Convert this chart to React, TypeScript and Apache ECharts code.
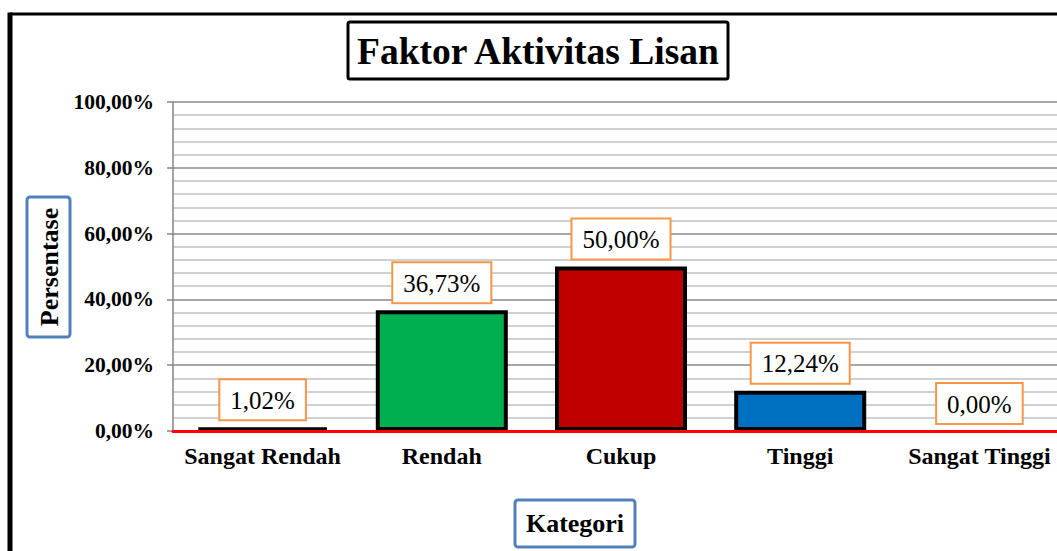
import React, { useEffect, useRef } from 'react';
import * as echarts from 'echarts';

const categories = ['Sangat Rendah', 'Rendah', 'Cukup', 'Tinggi', 'Sangat Tinggi'];
const values = [1.02, 36.73, 50.0, 12.24, 0.0];
const barColors = ['#FFC000', '#00B050', '#C00000', '#0070C0', '#7030A0'];
const chartTitle = 'Faktor Aktivitas Lisan';
const yTitle = 'Persentase';
const xTitle = 'Kategori';

const fmt = (v: number) => Number(v).toFixed(2).replace('.', ',') + '%';
const FONT = '"Liberation Serif", "Times New Roman", serif';

export default function App() {
  const ref = useRef<HTMLDivElement>(null);
  useEffect(() => {
    const chart = echarts.init(ref.current!, null, { renderer: 'svg' });
    chart.setOption({
      animation: false,
      backgroundColor: '#ffffff',
      grid: { left: 173, top: 102, width: 896, height: 329, containLabel: false },
      xAxis: {
        type: 'category',
        data: categories,
        z: 10,
        axisLine: { show: true, lineStyle: { color: '#FF0000', width: 3 } },
        axisTick: { show: false },
        axisLabel: {
          interval: 0,
          fontFamily: FONT,
          fontWeight: 'bold',
          fontSize: 24,
          color: '#000',
          margin: 13,
        },
      },
      yAxis: {
        type: 'value',
        min: 0,
        max: 100,
        interval: 20,
        axisLine: { show: true, lineStyle: { color: '#868686', width: 1.5 } },
        axisTick: { show: true, length: 6, lineStyle: { color: '#868686', width: 1.5 } },
        minorTick: { show: false, splitNumber: 5 },
        splitLine: { show: true, lineStyle: { color: '#8a8a8a', width: 1.5 } },
        minorSplitLine: { show: true, lineStyle: { color: '#c0c0c0', width: 1.5 } },
        axisLabel: {
          formatter: (v: number) => fmt(v),
          fontFamily: FONT,
          fontWeight: 'bold',
          fontSize: 21.5,
          color: '#000',
          margin: 19,
        },
      },
      series: [
        {
          type: 'bar',
          data: values.map((v, i) => ({
            value: v,
            itemStyle: { color: barColors[i], borderWidth: v === 0 ? 0 : 4 },
          })),
          barWidth: 132,
          itemStyle: { borderColor: '#000', borderWidth: 4 },
          label: {
            show: true,
            position: 'top',
            distance: 8,
            formatter: (p: any) => fmt(p.value),
            fontFamily: FONT,
            fontSize: 25,
            lineHeight: 26,
            color: '#000',
            backgroundColor: '#fff',
            borderColor: '#F79646',
            borderWidth: 2,
            padding: [7, 10, 6, 10],
          },
        },
      ],
      graphic: [
        { type: 'line', shape: { x1: 10, y1: 14, x2: 1100, y2: 14 }, style: { stroke: '#000', lineWidth: 3 }, z: 100 },
        { type: 'line', shape: { x1: 10, y1: 12.5, x2: 10, y2: 600 }, style: { stroke: '#000', lineWidth: 5 }, z: 100 },
        {
          type: 'rect',
          shape: { x: 348, y: 22, width: 380, height: 57, r: 2 },
          style: { fill: '#fff', stroke: '#000', lineWidth: 3 },
          z: 100,
        },
        {
          type: 'text',
          x: 538,
          y: 51,
          z: 101,
          style: {
            text: chartTitle,
            font: 'bold 37.5px ' + FONT,
            fill: '#000',
            align: 'center',
            verticalAlign: 'middle',
          },
        },
        {
          type: 'rect',
          shape: { x: 27, y: 197, width: 43, height: 140, r: 3 },
          style: { fill: '#fff', stroke: '#4F81BD', lineWidth: 3 },
          z: 100,
        },
        {
          type: 'text',
          x: 49,
          y: 267,
          rotation: Math.PI / 2,
          z: 101,
          style: {
            text: yTitle,
            font: 'bold 26px ' + FONT,
            fill: '#000',
            align: 'center',
            verticalAlign: 'middle',
          },
        },
        {
          type: 'rect',
          shape: { x: 515, y: 500, width: 120, height: 47, r: 3 },
          style: { fill: '#fff', stroke: '#4F81BD', lineWidth: 3 },
          z: 100,
        },
        {
          type: 'text',
          x: 575,
          y: 523,
          z: 101,
          style: {
            text: xTitle,
            font: 'bold 26px ' + FONT,
            fill: '#000',
            align: 'center',
            verticalAlign: 'middle',
          },
        },
      ],
    });
    return () => chart.dispose();
  }, []);
  return (
    <div
      style={{ position: 'absolute', left: 0, top: 0, width: 1057, height: 551, overflow: 'hidden', background: '#fff' }}
    >
      <div ref={ref} style={{ width: 1100, height: 551 }} />
    </div>
  );
}
